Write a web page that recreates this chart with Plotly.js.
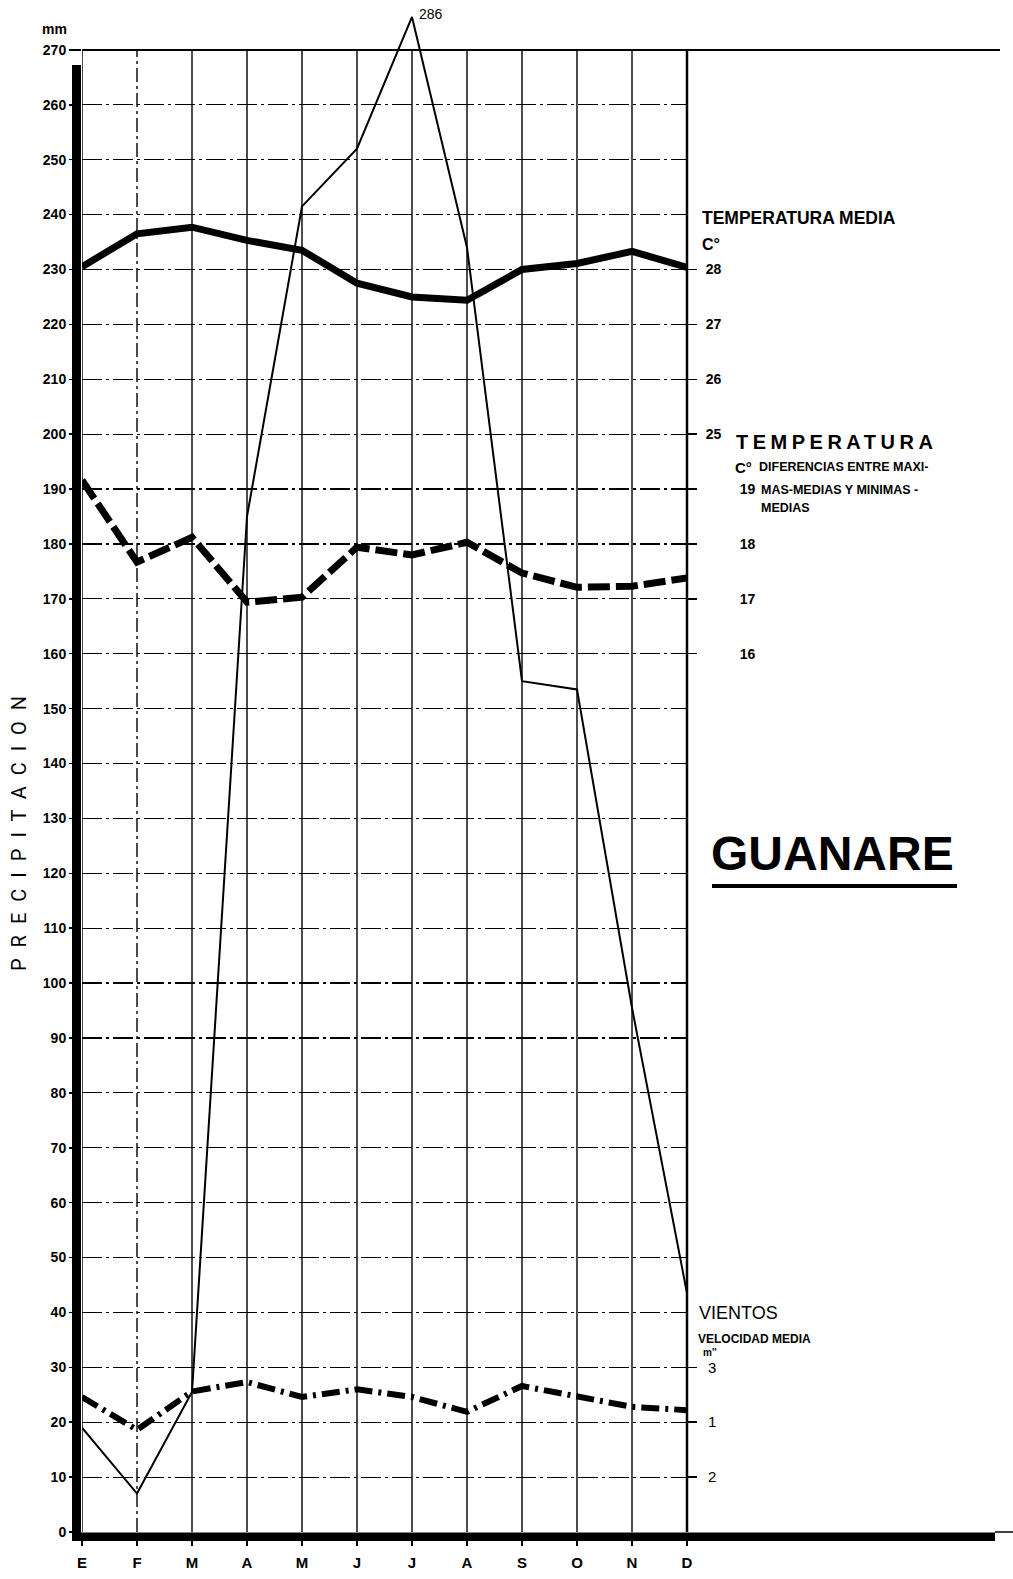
<!DOCTYPE html>
<html>
<head>
<meta charset="utf-8">
<script src="https://cdn.plot.ly/plotly-3.0.1.min.js"></script>
<style>html,body{margin:0;padding:0;background:#fff;}#chart{width:1013px;height:1579px;}</style>
</head>
<body>
<div id="chart"></div>
<script>
// ---------------- DATA ----------------
const months = ['E','F','M','A','M','J','J','A','S','O','N','D'];
// Precipitación (mm)
const precipitacion = [19, 7, 25.5, 185, 241.5, 252, 276, 234, 155, 153.5, 95.5, 43.5];
const precipPicoEtiqueta = '286';
// Temperatura media (°C)
const temperaturaMedia = [28.05, 28.65, 28.77, 28.53, 28.35, 27.75, 27.5, 27.44, 28.0, 28.11, 28.33, 28.04];
// Diferencias entre máximas-medias y mínimas-medias (°C)
const temperaturaDiferencia = [19.16, 17.67, 18.12, 16.94, 17.03, 17.94, 17.8, 18.03, 17.47, 17.21, 17.23, 17.38];
// Vientos, velocidad media
const vientoVelocidad = [2.46, 1.86, 2.56, 2.73, 2.46, 2.6, 2.46, 2.19, 2.66, 2.46, 2.28, 2.22];

const precipTicks = [0,10,20,30,40,50,60,70,80,90,100,110,120,130,140,150,160,170,180,190,200,210,220,230,240,250,260,270];
const tempMediaTicks = [25, 26, 27, 28];
const tempDifTicks = [16, 17, 18, 19];
const vientoTicks = [3, 2, 1];
const vientoTickText = ['3', '1', '2'];

// ---------------- LAYOUT HELPERS ----------------
const idx = months.map((m, i) => i);
const L = 82, R = 687, T = 6, B = 1532;
const W = R - L, H = B - T;
const px = v => (v - L) / W;
const py = v => (B - v) / H;
const COND = "'Liberation Sans', Arial, sans-serif";
const SANS = "'Liberation Sans', Arial, sans-serif";
const black = '#000';

const traces = [
  { x: idx, y: precipitacion, yaxis: 'y', mode: 'lines', line: { color: black, width: 2 }, hoverinfo: 'skip' },
  { x: idx, y: temperaturaMedia, yaxis: 'y2', mode: 'lines', line: { color: black, width: 7 }, hoverinfo: 'skip' },
  { x: idx, y: temperaturaDiferencia, yaxis: 'y3', mode: 'lines', line: { color: black, width: 7, dash: '22px,6px' }, hoverinfo: 'skip' },
  { x: idx, y: vientoVelocidad, yaxis: 'y4', mode: 'lines', line: { color: black, width: 6, dash: '18px,6px,3px,6px' }, hoverinfo: 'skip' }
];

// vertical month grid lines
const shapes = idx.map(i => ({
  type: 'line', xref: 'x', yref: 'y', x0: i, x1: i, y0: 0, y1: 270, layer: 'below',
  line: { color: black, width: 1.4, dash: (i === 1) ? '14px,4px,3px,4px' : 'solid' }
}));
// frame decorations
shapes.push(
  { type: 'line', xref: 'paper', yref: 'paper', x0: px(82), x1: px(1000), y0: py(50), y1: py(50), line: { color: black, width: 2 } },
  { type: 'line', xref: 'paper', yref: 'paper', x0: px(687), x1: px(687), y0: py(49), y1: py(1532), line: { color: black, width: 2.5 } },
  { type: 'rect', xref: 'paper', yref: 'paper', x0: px(72), x1: px(81), y0: py(65), y1: py(1541), fillcolor: black, line: { width: 0 } },
  { type: 'rect', xref: 'paper', yref: 'paper', x0: px(72), x1: px(995), y0: py(1532.5), y1: py(1541), fillcolor: black, line: { width: 0 } },
  { type: 'line', xref: 'paper', yref: 'paper', x0: px(995), x1: px(1013), y0: py(1532), y1: py(1532), line: { color: black, width: 1.5 } },
  { type: 'line', xref: 'paper', yref: 'paper', x0: px(712), x1: px(957), y0: py(886), y1: py(886), line: { color: black, width: 4 } }
);

function ann(text, x, y, size, family, opts) {
  return Object.assign({
    text: text, xref: 'paper', yref: 'paper', x: px(x), y: py(y),
    xanchor: 'left', yanchor: 'middle', showarrow: false,
    font: { family: family || COND, size: size, color: black, weight: 'bold' }
  }, opts || {});
}

const annotations = [
  ann('mm', 54, 29, 14, COND, { xanchor: 'center' }),
  { text: precipPicoEtiqueta, xref: 'x', yref: 'y', x: idx[precipitacion.indexOf(Math.max(...precipitacion))],
    y: Math.max(...precipitacion), xanchor: 'left', yanchor: 'middle', xshift: 5, yshift: 3, showarrow: false,
    font: { family: COND, size: 14, color: black } },
  ann('<span style="letter-spacing:11px">PRECIPITACION</span>', 19, 828, 20, "Roboto, 'Liberation Sans', sans-serif",
      { xanchor: 'center', textangle: -90, font: { family: "Roboto, 'Liberation Sans', sans-serif", size: 20, color: black, weight: 'normal' } }),
  ann('TEMPERATURA MEDIA', 700, 218, 17.5),
  ann('C°', 700, 245, 16),
  ann('<span style="letter-spacing:4.5px">TEMPERATURA</span>', 734, 442, 20),
  ann('C°', 733, 468, 15),
  ann('DIFERENCIAS ENTRE MAXI-', 757, 467, 12.5),
  ann('MAS-MEDIAS Y MINIMAS -', 759, 490, 12.5),
  ann('MEDIAS', 759, 508, 12.5),
  ann('GUANARE', 709, 853, 48, SANS),
  ann('VIENTOS', 697, 1313, 18, COND, { font: { family: COND, size: 18, color: black, weight: 'normal' } }),
  ann('VELOCIDAD MEDIA', 696, 1339, 12),
  ann("m''", 701, 1352, 10)
];

const tickFontBold = { family: COND, size: 14, color: black, weight: 'bold' };

const layout = {
  width: 1013, height: 1579,
  margin: { l: L, r: 1013 - R, t: T, b: 1579 - B, pad: 0 },
  paper_bgcolor: '#fff', plot_bgcolor: 'rgba(0,0,0,0)',
  showlegend: false,
  xaxis: {
    range: [0, 11], tickmode: 'array', tickvals: idx, ticktext: months,
    ticks: 'outside', ticklen: 13, tickwidth: 1.5, tickcolor: black,
    showgrid: false, zeroline: false, showline: false, ticklabelstandoff: 4,
    tickfont: { family: COND, size: 15, color: black, weight: 'bold' }, fixedrange: true
  },
  yaxis: {
    range: [0, 278], tickmode: 'array', tickvals: precipTicks,
    ticks: 'outside', ticklen: 12, tickwidth: 1.5, tickcolor: black,
    showgrid: true, gridcolor: black, gridwidth: 1.2, griddash: '20px,4px,3px,4px',
    zeroline: false, showline: false, tickfont: tickFontBold, fixedrange: true
  },
  yaxis2: {
    overlaying: 'y', side: 'right', anchor: 'x', range: [28 - 23, 28 + 4.8],
    tickmode: 'array', tickvals: tempMediaTicks, ticks: 'outside', ticklen: 9, tickwidth: 1.5, tickcolor: black,
    showgrid: false, zeroline: false, showline: false, tickfont: tickFontBold, ticklabelstandoff: 6, fixedrange: true
  },
  yaxis3: {
    overlaying: 'y', side: 'right', anchor: 'x', range: [0, 27.8],
    tickmode: 'array', tickvals: tempDifTicks, ticks: 'outside', ticklen: 9, tickwidth: 1.5, tickcolor: black,
    showgrid: false, zeroline: false, showline: false, tickfont: tickFontBold, ticklabelstandoff: 40, fixedrange: true
  },
  yaxis4: {
    overlaying: 'y', side: 'right', anchor: 'x', range: [0, 27.8],
    tickmode: 'array', tickvals: vientoTicks, ticktext: vientoTickText, ticks: 'outside', ticklen: 9, tickwidth: 1.5, tickcolor: black,
    showgrid: false, zeroline: false, showline: false,
    tickfont: { family: COND, size: 15, color: black, weight: 'normal' }, ticklabelstandoff: 8, fixedrange: true
  },
  shapes: shapes,
  annotations: annotations
};

Plotly.newPlot('chart', traces, layout, { displayModeBar: false, staticPlot: true });
</script>
</body>
</html>
